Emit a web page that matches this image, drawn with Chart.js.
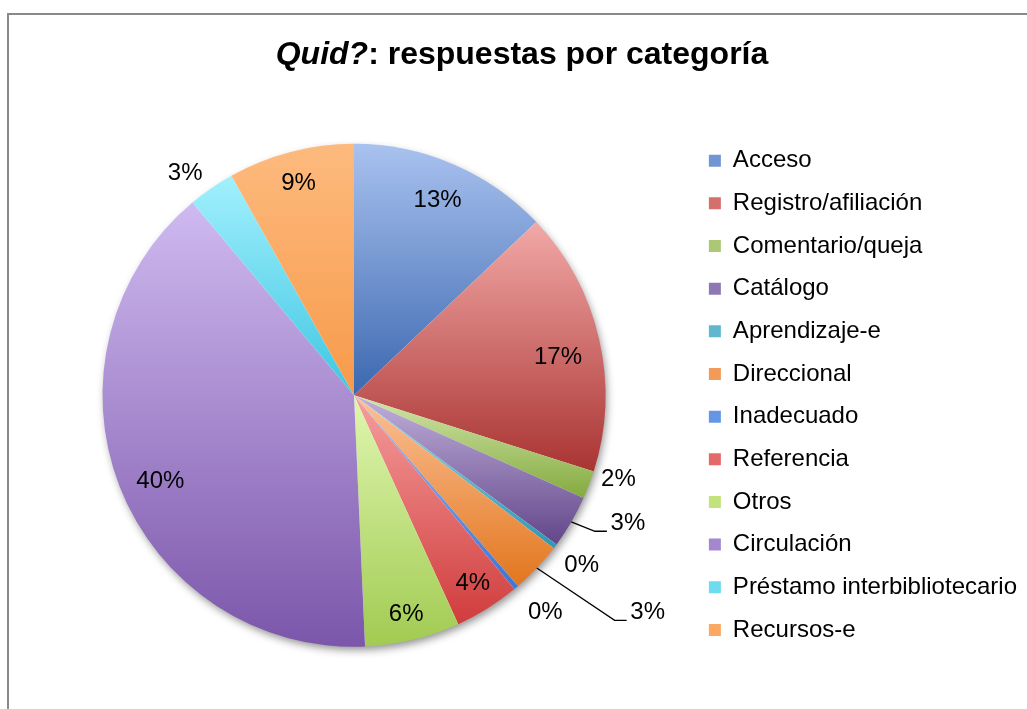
<!DOCTYPE html>
<html>
<head>
<meta charset="utf-8">
<script src="https://cdn.jsdelivr.net/npm/chart.js@4.4.1/dist/chart.umd.min.js"></script>
<style>
html,body{margin:0;padding:0;background:#fff;}
#wrap{position:relative;width:1027px;height:709px;}
</style>
</head>
<body>
<div id="wrap"><canvas id="c"></canvas></div>
<script>
// ---- data ----
const categories = ['Acceso','Registro/afiliación','Comentario/queja','Catálogo','Aprendizaje-e','Direccional','Inadecuado','Referencia','Otros','Circulación','Préstamo interbibliotecario','Recursos-e'];
const shares = [12.9, 17.0, 1.8, 3.4, 0.3, 3.3, 0.3, 4.2, 6.1, 39.6, 3.0, 8.1];
const shareLabels = ['13%','17%','2%','3%','0%','3%','0%','4%','6%','40%','3%','9%'];
const titleItalic = 'Quid?';
const titleRest = ': respuestas por categoría';

// ---- styles ----
const lightColors = ['#a9c2ef','#f2a9a7','#d2e6ab','#c0b0da','#95d8ea','#fcc197','#93b8f6','#f69e9e','#e0f6b0','#cfbaf0','#a2f0fd','#fdba7e'];
const darkColors  = ['#3c68b0','#a93432','#84aa3e','#62468a','#2f97b2','#e2761e','#3a76d6','#d03c3c','#a1cb52','#7b56aa','#3ec6e2','#f79a4a'];
const midColors   = ['#6f95d4','#d46f6c','#acc874','#8f77b4','#5fb8d0','#f29a58','#6596e6','#e46a6a','#c2e27e','#a487cf','#6edcf0','#fba862'];
const FONT = "'Liberation Sans', Arial, Helvetica, sans-serif";
const legendFontPx = 24, legendPad = 18.66, boxW = 12;
const pieRadius = 251.5, pieCx = 354;

// label placement: radial factor & angular shift (deg) relative to slice middle
const labelPlacement = [
  {f:0.843,d:0},{f:0.825,d:2.5},{f:1.103,d:-3.3},{f:1.202,d:-5.2,leader:true},
  {f:1.129,d:-0.2},{f:1.452,d:-6.9,leader:true},{f:1.149,d:-1.3},{f:0.885,d:-0.2},
  {f:0.895,d:0.1},{f:0.843,d:-2.8},{f:1.109,d:-2.7},{f:0.87,d:-0.1}
];

// ---- layout computation ----
const mctx = document.createElement('canvas').getContext('2d');
mctx.font = legendFontPx + 'px ' + FONT;
const maxTextW = Math.max(...categories.map(t => mctx.measureText(t).width));
const legendW = legendPad + boxW + legendFontPx/2 + maxTextW + 10;
const boxX = 709;
let legendLeft = boxX - legendPad;
let padRight = 1027 - legendLeft - legendW;
if (padRight < 0) { padRight = 0; legendLeft = 1027 - legendW; }
const padLeft = 2*pieCx - legendLeft;

function sliceGradient(context) {
  const chart = context.chart, area = chart.chartArea, i = context.dataIndex;
  if (!area) return midColors[i];
  const data = chart.data.datasets[0].data;
  const total = data.reduce((a,b)=>a+b,0);
  let before = 0; for (let k=0;k<i;k++) before += data[k];
  const a0 = -Math.PI/2 + before/total*2*Math.PI;
  const a1 = a0 + data[i]/total*2*Math.PI;
  const cy = (area.top+area.bottom)/2, r = pieRadius;
  const ys = [cy, cy + r*Math.sin(a0), cy + r*Math.sin(a1)];
  for (const t of [-Math.PI/2, Math.PI/2, 3*Math.PI/2]) if (t >= a0 && t <= a1) ys.push(cy + r*Math.sin(t));
  const y0 = Math.min(...ys), y1 = Math.max(...ys);
  const g = chart.ctx.createLinearGradient(0, y0, 0, y1 > y0 + 1 ? y1 : y0 + 1);
  g.addColorStop(0, lightColors[i]);
  g.addColorStop(1, darkColors[i]);
  return g;
}

const framePlugin = {
  id: 'frame',
  beforeDraw(chart) {
    const ctx = chart.ctx;
    ctx.save();
    ctx.fillStyle = '#ffffff';
    ctx.fillRect(0,0,chart.width,chart.height);
    ctx.fillStyle = '#898989';
    ctx.fillRect(7,13,2,chart.height-13);
    ctx.fillRect(7,13,chart.width-7,2);
    ctx.restore();
  }
};

const shadowPlugin = {
  id: 'pieShadow',
  beforeDatasetsDraw(chart) {
    const arc = chart.getDatasetMeta(0).data[0];
    if (!arc) return;
    const ctx = chart.ctx;
    ctx.save();
    ctx.shadowColor = 'rgba(0,0,0,0.45)';
    ctx.shadowBlur = 9;
    ctx.shadowOffsetX = 2;
    ctx.shadowOffsetY = 4;
    ctx.fillStyle = '#ffffff';
    ctx.beginPath();
    ctx.arc(arc.x, arc.y, arc.outerRadius - 1, 0, 2*Math.PI);
    ctx.fill();
    ctx.restore();
  }
};

const labelPlugin = {
  id: 'sliceLabels',
  afterDatasetsDraw(chart) {
    const ctx = chart.ctx;
    const meta = chart.getDatasetMeta(0);
    ctx.save();
    ctx.font = '24px ' + FONT;
    ctx.fillStyle = '#000';
    ctx.strokeStyle = '#000';
    ctx.lineWidth = 1.3;
    ctx.textAlign = 'center';
    ctx.textBaseline = 'middle';
    meta.data.forEach((arc, i) => {
      const p = labelPlacement[i];
      const m0 = (arc.startAngle + arc.endAngle)/2;
      const mid = m0 + p.d*Math.PI/180;
      const lx = arc.x + Math.cos(mid)*arc.outerRadius*p.f;
      const ly = arc.y + Math.sin(mid)*arc.outerRadius*p.f;
      if (p.leader) {
        const sx = arc.x + Math.cos(m0)*arc.outerRadius;
        const sy = arc.y + Math.sin(m0)*arc.outerRadius;
        ctx.beginPath();
        ctx.moveTo(sx, sy);
        ctx.lineTo(lx - 33, ly + 8);
        ctx.lineTo(lx - 21, ly + 8);
        ctx.stroke();
      }
      ctx.fillText(shareLabels[i], lx, ly);
    });
    ctx.restore();
  }
};

const titlePlugin = {
  id: 'mixedTitle',
  afterDraw(chart) {
    const ctx = chart.ctx;
    ctx.save();
    const fItal = 'italic bold 32px ' + FONT;
    const fBold = 'bold 32px ' + FONT;
    ctx.font = fItal; const w1 = ctx.measureText(titleItalic).width;
    ctx.font = fBold; const w2 = ctx.measureText(titleRest).width;
    const x0 = 522 - (w1 + w2)/2;
    ctx.fillStyle = '#000';
    ctx.textBaseline = 'alphabetic';
    ctx.textAlign = 'left';
    ctx.font = fItal; ctx.fillText(titleItalic, x0, 64);
    ctx.font = fBold; ctx.fillText(titleRest, x0 + w1, 64);
    ctx.restore();
  }
};

new Chart(document.getElementById('c'), {
  type: 'pie',
  data: {
    labels: categories,
    datasets: [{
      data: shares,
      backgroundColor: sliceGradient,
      borderWidth: 0,
      radius: pieRadius
    }]
  },
  options: {
    responsive: true,
    maintainAspectRatio: false,
    animation: false,
    devicePixelRatio: 1,
    events: [],
    layout: { padding: { top: 121.6, bottom: 40, left: padLeft, right: padRight } },
    plugins: {
      title: { display: false },
      tooltip: { enabled: false },
      legend: {
        position: 'right',
        align: 'center',
        labels: {
          boxWidth: boxW,
          boxHeight: 12,
          padding: legendPad,
          color: '#000',
          font: { size: legendFontPx, family: FONT },
          generateLabels(chart) {
            const items = Chart.overrides.pie.plugins.legend.labels.generateLabels(chart);
            items.forEach((it, i) => { it.fillStyle = midColors[i]; it.strokeStyle = midColors[i]; it.lineWidth = 0; });
            return items;
          }
        }
      }
    }
  },
  plugins: [framePlugin, shadowPlugin, labelPlugin, titlePlugin]
});
</script>
</body>
</html>
